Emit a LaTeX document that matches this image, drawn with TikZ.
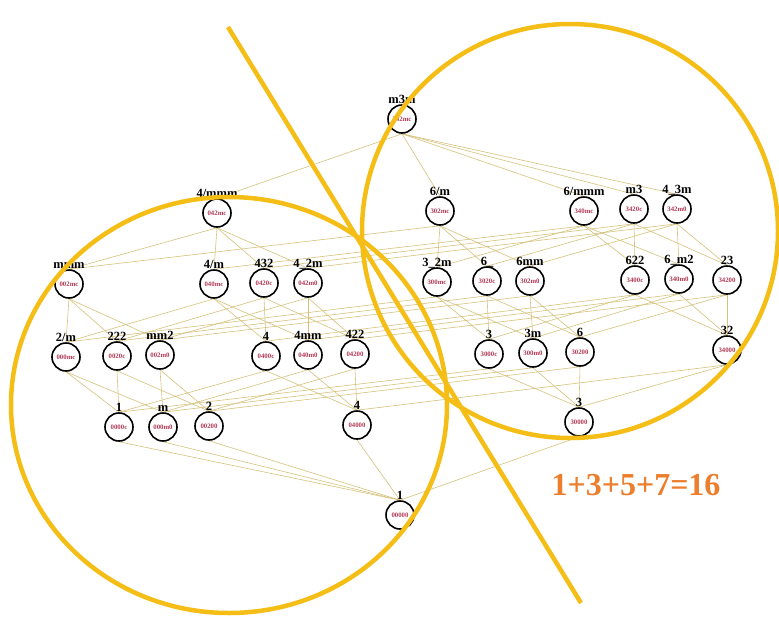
\documentclass[tikz,border=0pt]{standalone}
\usepackage{fontspec}
\setmainfont{Liberation Serif}
\definecolor{gold}{RGB}{245,190,22}
\definecolor{edgetan}{RGB}{214,194,124}
\definecolor{codered}{RGB}{178,58,85}
\definecolor{sumorange}{RGB}{236,126,44}

\pgfdeclarelayer{paper}
\pgfdeclarelayer{links}
\pgfsetlayers{paper,links,main}

% one group: circle with its code, symbol written above it
\newcommand\placegrp[4]{%
  \node[grp] (n#3) at (#1,#2) {#3};
  \node[lbl] (t#3) at (#1,#2-16) {#4};}

\begin{document}
\begin{tikzpicture}[x=1pt,y=-1pt,
  grp/.style={circle,draw=black,line width=1.6pt,fill=white,minimum size=28pt,
    inner sep=0pt,font=\fontsize{6.8}{7}\selectfont\bfseries,text=codered},
  lbl/.style={anchor=base,inner sep=0pt,font=\fontsize{12.5}{13}\selectfont\bfseries},
  link/.style={draw=edgetan,line width=0.6pt},
  band/.style={draw=gold,line width=4.5pt},
  total/.style={font=\fontsize{32}{34}\selectfont\bfseries,text=sumorange}]

\begin{pgfonlayer}{paper}
\fill[white] (0,0) rectangle (779,619);
\end{pgfonlayer}
\useasboundingbox (0,0) rectangle (779,619);

% level 0
\placegrp{402}{119}{342mc}{m3m}
% level 1
\placegrp{217}{213}{042mc}{4/mmm}
\placegrp{440}{211}{302mc}{6/m}
\placegrp{584}{211}{340mc}{6/mmm}
\placegrp{634}{209}{3420c}{m3}
\placegrp{677}{209}{342m0}{4\_3m}
% level 2
\placegrp{69}{284}{002mc}{mmm}
\placegrp{214}{284}{040mc}{4/m}
\placegrp{264}{283}{0420c}{432}
\placegrp{308}{283}{042m0}{4\_2m}
\placegrp{437}{282}{300mc}{3\_2m}
\placegrp{487}{281}{3020c}{6\_}
\placegrp{530}{281}{302m0}{6mm}
\placegrp{635}{280}{3400c}{622}
\placegrp{679}{279}{340m0}{6\_m2}
\placegrp{727}{280}{34200}{23}
% level 3
\placegrp{66}{357}{000mc}{2/m}
\placegrp{117}{356}{0020c}{222}
\placegrp{160}{355}{002m0}{mm2}
\placegrp{266}{356}{0400c}{4}
\placegrp{308}{355}{040m0}{4mm}
\placegrp{355}{354}{04200}{422}
\placegrp{489}{354}{3000c}{3}
\placegrp{533}{353}{300m0}{3m}
\placegrp{580}{352}{30200}{6}
\placegrp{727}{350}{34000}{32}
% level 4
\placegrp{119}{427}{0000c}{1}
\placegrp{163}{427}{000m0}{m}
\placegrp{209}{426}{00200}{2}
\placegrp{357}{425}{04000}{4}
\placegrp{579}{422}{30000}{3}
% level 5
\placegrp{400}{515}{00000}{1}

% inclusion links: drop one symmetry element at a time
\begin{pgfonlayer}{links}
\foreach \a/\b in {
  342mc/042mc, 342mc/302mc, 342mc/340mc, 342mc/3420c, 342mc/342m0,
  042mc/002mc, 042mc/040mc, 042mc/0420c, 042mc/042m0,
  302mc/002mc, 302mc/300mc, 302mc/3020c, 302mc/302m0,
  340mc/040mc, 340mc/300mc, 340mc/3400c, 340mc/340m0,
  3420c/0420c, 3420c/3020c, 3420c/3400c, 3420c/34200,
  342m0/042m0, 342m0/302m0, 342m0/340m0, 342m0/34200,
  002mc/000mc, 002mc/0020c, 002mc/002m0,
  040mc/000mc, 040mc/0400c, 040mc/040m0,
  0420c/0020c, 0420c/0400c, 0420c/04200,
  042m0/002m0, 042m0/040m0, 042m0/04200,
  300mc/000mc, 300mc/3000c, 300mc/300m0,
  3020c/0020c, 3020c/3000c, 3020c/30200,
  302m0/002m0, 302m0/300m0, 302m0/30200,
  3400c/0400c, 3400c/3000c, 3400c/34000,
  340m0/040m0, 340m0/300m0, 340m0/34000,
  34200/04200, 34200/30200, 34200/34000,
  000mc/0000c, 000mc/000m0,
  0020c/0000c, 0020c/00200,
  002m0/000m0, 002m0/00200,
  0400c/0000c, 0400c/04000,
  040m0/000m0, 040m0/04000,
  04200/00200, 04200/04000,
  3000c/0000c, 3000c/30000,
  300m0/000m0, 300m0/30000,
  30200/00200, 30200/30000,
  34000/04000, 34000/30000,
  0000c/00000, 000m0/00000, 00200/00000, 04000/00000, 30000/00000}
  \draw[link] (n\a.south) -- (n\b.north);
\end{pgfonlayer}

% the two overlapping rings and the dividing stroke
\draw[band] (229,405) ellipse [x radius=218, y radius=208];
\draw[band] (570,231) ellipse [x radius=208, y radius=207];
\coordinate (slashtop) at (228,27);
\coordinate (slashend) at (581,603);
\draw[band] (slashtop) -- (slashend);

\node[total] (sum) at (636,485) {1+3+5+7=16};
\end{tikzpicture}
\end{document}
